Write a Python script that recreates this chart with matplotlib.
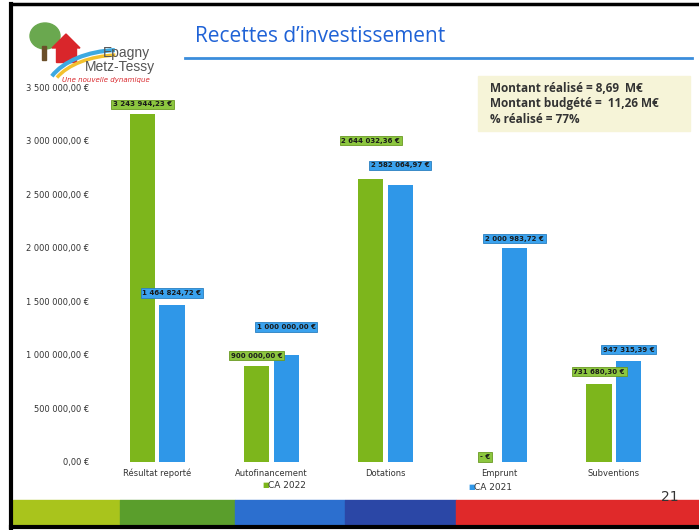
import numpy as np
import matplotlib.pyplot as plt
import matplotlib.patches as mpatches
from matplotlib.ticker import FuncFormatter

# Data
categories = ['Résultat reporté', 'Autofinancement', 'Dotations', 'Emprunt', 'Subventions']
ca_2022 = [3243944.23, 900000.00, 2644032.36, 0.0, 731680.30]
ca_2021 = [1464824.72, 1000000.00, 2582064.97, 2000983.72, 947315.39]
labels_2022 = ['3 243 944,23 €', '900 000,00 €', '2 644 032,36 €', '- €', '731 680,30 €']
labels_2021 = ['1 464 824,72 €', '1 000 000,00 €', '2 582 064,97 €', '2 000 983,72 €', '947 315,39 €']

green = '#7db61c'
blue = '#2f97e8'

W, H = 699, 530
fig = plt.figure(figsize=(W / 100, H / 100), dpi=100)
fig.patch.set_facecolor('white')

def fx(px):
    return px / W

def fy(py):
    return 1 - py / H

# photo frame borders
fig.add_artist(plt.Line2D([fx(11), fx(11)], [fy(4), fy(530)], color='black', lw=3))
fig.add_artist(plt.Line2D([fx(11), fx(699)], [fy(4), fy(4)], color='black', lw=2.5))
fig.add_artist(plt.Line2D([fx(11), fx(699)], [fy(527), fy(527)], color='black', lw=3))

# bottom colour bands
bands = [(13, 120, '#a9c41c'), (120, 235, '#5a9e2c'), (235, 345, '#2c6fcf'),
         (345, 456, '#2b47a6'), (456, 699, '#e0292a')]
for x0, x1, c in bands:
    fig.add_artist(mpatches.Rectangle((fx(x0), fy(524)), fx(x1 - x0), 24 / H,
                                      color=c, transform=fig.transFigure))
fig.text(fx(670), fy(497), '21', fontsize=10, color='#333333', ha='center', va='center')

# logo (simple drawing)
fig.add_artist(mpatches.Ellipse((fx(45), fy(36)), 30 / W, 26 / H, color='#6aa84f',
                                transform=fig.transFigure))
fig.add_artist(mpatches.Rectangle((fx(42), fy(60)), 4 / W, 14 / H, color='#6b4f2a',
                                  transform=fig.transFigure))
fig.add_artist(mpatches.Polygon([(fx(52), fy(48)), (fx(66), fy(34)), (fx(80), fy(48))],
                                color='#d9262b', transform=fig.transFigure))
fig.add_artist(mpatches.Rectangle((fx(56), fy(62)), 20 / W, 14 / H, color='#d9262b',
                                  transform=fig.transFigure))
fig.add_artist(mpatches.Arc((fx(120), fy(95)), 150 / W, 90 / H, theta1=95, theta2=160,
                            color='#3da9e0', lw=3, transform=fig.transFigure))
fig.add_artist(mpatches.Arc((fx(120), fy(95)), 140 / W, 80 / H, theta1=95, theta2=160,
                            color='#f2c12e', lw=2.5, transform=fig.transFigure))
fig.text(fx(150), fy(53), 'Epagny', fontsize=10, color='#555555', ha='right', va='center',
         family='Liberation Sans')
fig.text(fx(155), fy(67), 'Metz-Tessy', fontsize=10, color='#555555', ha='right', va='center',
         family='Liberation Sans')
fig.text(fx(150), fy(80), 'Une nouvelle dynamique', fontsize=5, color='#d9262b',
         style='italic', ha='right', va='center')

# title and underline
fig.text(fx(195), fy(36), 'Recettes d\u2019investissement', fontsize=15, color='#1f62d6',
         ha='left', va='center', family='Open Sans')
fig.add_artist(plt.Line2D([fx(185), fx(692)], [fy(58), fy(58)], color='#3b8ddc', lw=2))

# info box
fig.add_artist(mpatches.Rectangle((fx(478), fy(131)), 212 / W, 55 / H, color='#f6f4d8',
                                  transform=fig.transFigure))
info = ['Montant réalisé = 8,69  M€', 'Montant budgété =  11,26 M€', '% réalisé = 77%']
for i, t in enumerate(info):
    fig.text(fx(490), fy(88 + i * 15.5), t, fontsize=8.5, fontweight='bold',
             color='#333333', ha='left', va='center', family='Open Sans')

# chart
ax = fig.add_axes([fx(100), fy(462), fx(571), 375 / H])
ax.set_facecolor('none')
x = np.arange(len(categories))
bw = 0.22
ax.bar(x - 0.13, ca_2022, bw, color=green, zorder=2)
ax.bar(x + 0.13, ca_2021, bw, color=blue, zorder=2)
ax.set_xlim(-0.5, 4.5)
ax.set_ylim(0, 3500000)
ax.set_yticks(np.arange(0, 3500001, 500000))
ax.yaxis.set_major_formatter(FuncFormatter(
    lambda v, p: ('{:,.2f}'.format(v).replace(',', ' ').replace('.', ',') + ' €') if v else '0,00 €'))
ax.set_xticks(x)
ax.set_xticklabels(categories)
ax.tick_params(axis='both', length=0, labelsize=6, colors='#333333')
ax.tick_params(axis='y', pad=8)
ax.tick_params(axis='x', pad=5)
for s in ax.spines.values():
    s.set_visible(False)

# data labels (some were moved by hand on the slide)
shift_2022 = [10, 10, 38, 5, 12]
shift_2021 = [12, 28, 20, 9, 11]
for xi, v, lab, d in zip(x, ca_2022, labels_2022, shift_2022):
    ax.annotate(lab, (xi - 0.13, v), xytext=(0, d * 0.72), textcoords='offset points',
                ha='center', va='center', fontsize=5, fontweight='bold', color='#1a1a1a',
                bbox=dict(boxstyle='square,pad=0.25', fc='#8cc63f', ec='#6a9a22', lw=0.6))
for xi, v, lab, d in zip(x, ca_2021, labels_2021, shift_2021):
    ax.annotate(lab, (xi + 0.13, v), xytext=(0, d * 0.72), textcoords='offset points',
                ha='center', va='center', fontsize=5, fontweight='bold', color='#1a1a1a',
                bbox=dict(boxstyle='square,pad=0.25', fc='#3aa2ee', ec='#2a7fc0', lw=0.6))

# legend entries, placed as in the slide
fig.text(fx(262), fy(485), '\u25a0', fontsize=5, color=green, ha='left', va='center')
fig.text(fx(268), fy(485), 'CA 2022', fontsize=6.5, color='#333333', ha='left', va='center')
fig.text(fx(468), fy(487), '\u25a0', fontsize=5, color=blue, ha='left', va='center')
fig.text(fx(474), fy(487), 'CA 2021', fontsize=6.5, color='#333333', ha='left', va='center')

plt.savefig('out.png', dpi=100)
